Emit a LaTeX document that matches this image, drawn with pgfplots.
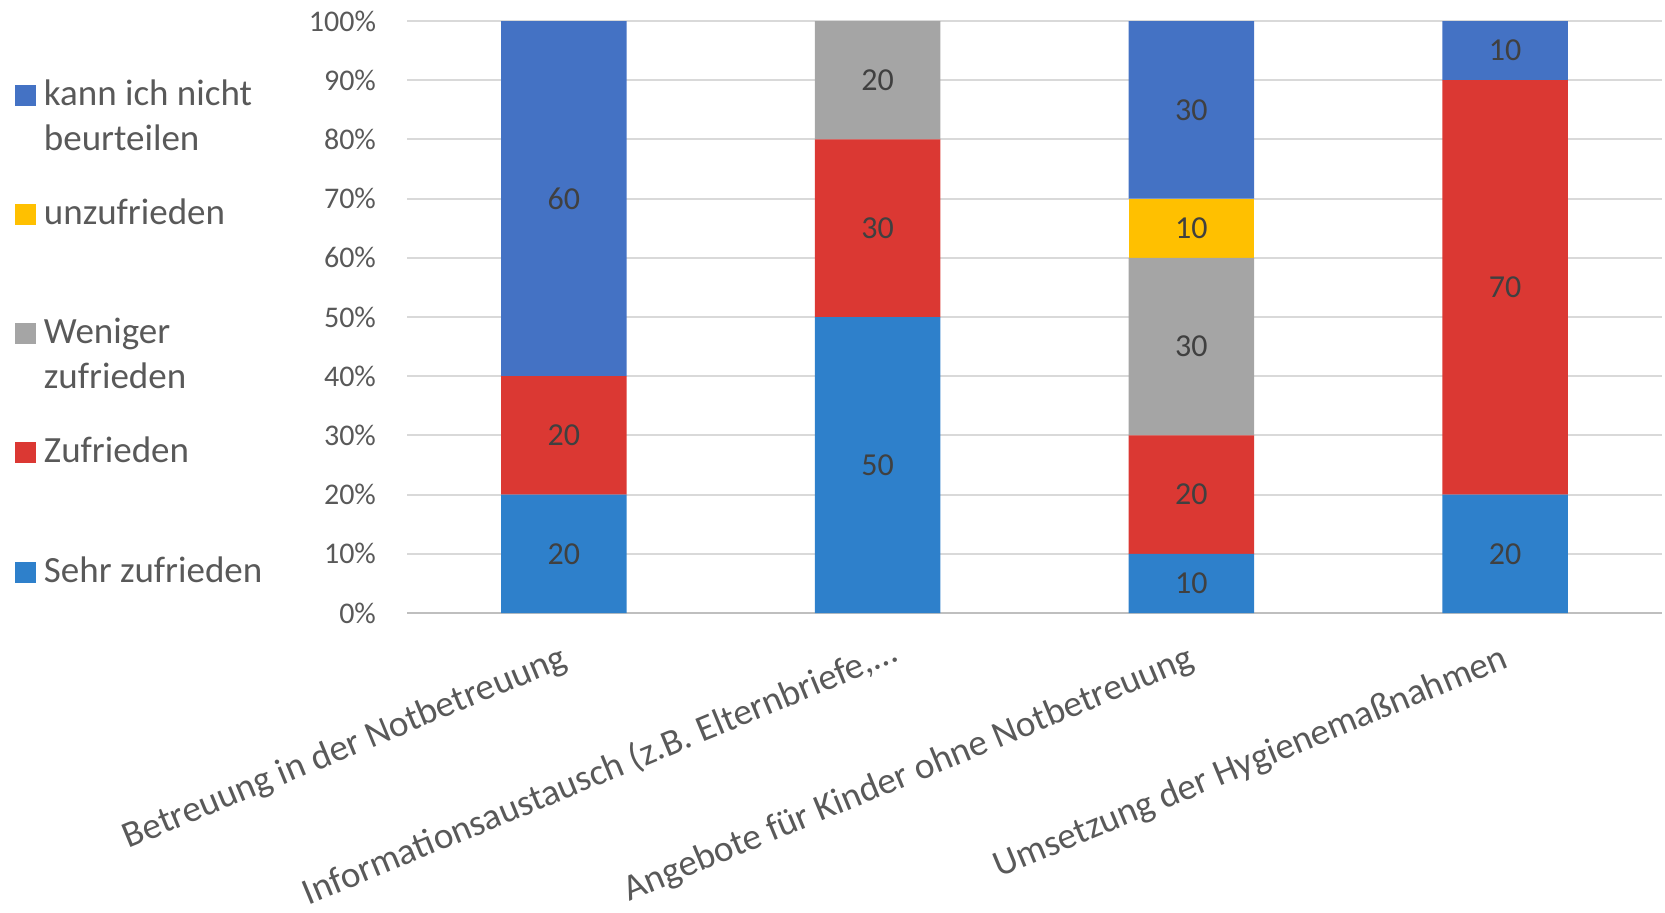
\documentclass[border=0pt]{standalone}
\usepackage{fontspec}
\setmainfont{Carlito}
\usepackage{pgfplots}
\usepackage{pgfplotstable}
\pgfplotsset{compat=1.18}
\definecolor{cKann}{HTML}{4472C4}
\definecolor{cUnz}{HTML}{FFC000}
\definecolor{cWen}{HTML}{A5A5A5}
\definecolor{cZuf}{HTML}{DB3833}
\definecolor{cSehr}{HTML}{2E80CB}
\definecolor{gridgray}{HTML}{D9D9D9}
\definecolor{axgray}{HTML}{BFBFBF}
\definecolor{txtgray}{HTML}{595959}
\definecolor{lblgray}{HTML}{404040}
\pgfplotstableread{
x sehr zuf wen unz kann
0 20 20 0 0 60
1 50 30 20 0 0
2 10 20 30 10 30
3 20 70 0 0 10
}\data
\begin{document}
\begin{tikzpicture}
\useasboundingbox (0,0) rectangle (832.5pt,456pt);
\begin{axis}[
  at={(203.5pt,149.5pt)}, anchor=south west,
  scale only axis, width=627.5pt, height=296pt,
  ybar stacked, bar width=62.75pt,
  xmin=-0.5, xmax=3.5, ymin=0, ymax=100,
  xtick={0,1,2,3},
  xticklabels={Betreuung in der Notbetreuung,{Informationsaustausch (z.B. Elternbriefe,…\hspace*{-9pt}},Angebote für Kinder ohne Notbetreuung,Umsetzung der Hygienemaßnahmen},
  xticklabel style={rotate=22.5, anchor=north east, inner sep=0pt, font=\fontsize{18.6}{22}\selectfont, text=txtgray, yshift=-12.5pt, xshift=-8pt},
  ytick={0,10,...,100},
  yticklabel={\pgfmathprintnumber{\tick}\%},
  yticklabel style={font=\fontsize{15}{18}\selectfont, text=txtgray, xshift=-12pt},
  /pgf/number format/assume math mode=true,
  axis line style={draw=none},
  tick style={draw=none},
  ymajorgrids, grid style={draw=gridgray, line width=1pt},
  extra y ticks={0}, extra y tick labels={},
  extra y tick style={grid style={draw=axgray, line width=1.2pt}},
  nodes near coords={\ifdim\v pt>0pt \pgfmathprintnumber{\v}\fi},
  nodes near coords align={center},
  every node near coord/.append style={font=\fontsize{16}{19}\selectfont, text=lblgray, anchor=center},
  reverse legend,
  legend cell align=left,
  legend style={at={(-0.3124,0.900)}, anchor=north west, draw=none, fill=none,
    inner sep=0pt, outer sep=0pt, row sep=45.2pt, column sep=4pt,
    font=\fontsize{18.5}{22.3}\selectfont, text=txtgray,
    nodes={inner sep=0pt, anchor=base west}},
  legend image code/.code={\path[#1, draw=none] (0pt,-0.25pt) rectangle (10.5pt,10.25pt);},
]
\addplot[fill=cSehr, draw=none, visualization depends on={\thisrow{sehr}\as\v}] table[x=x,y=sehr]{\data};
\addlegendentry{\parbox[t]{130pt}{Sehr zufrieden}}
\addplot[fill=cZuf, draw=none, visualization depends on={\thisrow{zuf}\as\v}] table[x=x,y=zuf]{\data};
\addlegendentry{\parbox[t]{130pt}{Zufrieden}}
\addplot[fill=cWen, draw=none, visualization depends on={\thisrow{wen}\as\v}] table[x=x,y=wen]{\data};
\addlegendentry{\parbox[t]{130pt}{Weniger\\zufrieden}}
\addplot[fill=cUnz, draw=none, visualization depends on={\thisrow{unz}\as\v}] table[x=x,y=unz]{\data};
\addlegendentry{\parbox[t]{130pt}{unzufrieden}}
\addplot[fill=cKann, draw=none, visualization depends on={\thisrow{kann}\as\v}] table[x=x,y=kann]{\data};
\addlegendentry{\parbox[t]{130pt}{kann ich nicht\\beurteilen}}
\end{axis}
\end{tikzpicture}
\end{document}
